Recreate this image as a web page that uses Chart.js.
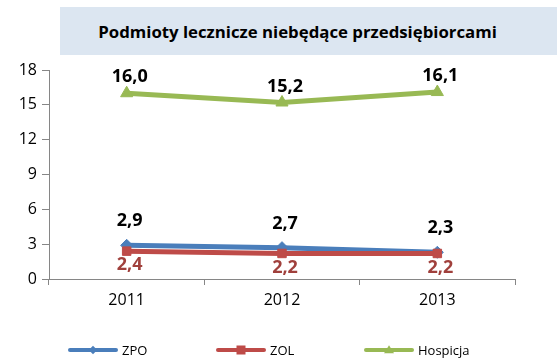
<!DOCTYPE html>
<html lang="pl">
<head>
<meta charset="utf-8">
<script src="https://cdn.jsdelivr.net/npm/chart.js@4/dist/chart.umd.min.js"></script>
<style>
  html, body { margin: 0; padding: 0; background: #fff; }
  body { width: 557px; height: 359px; position: relative; overflow: hidden; font-family: "Open Sans", "Liberation Sans", sans-serif; }
  #chart { position: absolute; left: 0; top: 0; }
  .title-box {
    position: absolute; left: 60px; top: 7px; width: 497px; height: 48px;
    background: #dce6f1; display: flex; align-items: center; justify-content: center;
    font-weight: bold; font-size: 16.8px; color: #000; padding-right: 22px; box-sizing: border-box;
  }
  .legend { position: absolute; left: 68px; top: 341px; display: flex; }
  .legend-item { width: 148px; display: flex; align-items: center; font-size: 13px; color: #000; }
  .legend-line { position: relative; width: 50px; height: 4px; border-radius: 2px; margin-right: 4px; }
  .legend-mark { position: absolute; left: 50%; top: 50%; }
  .mark-rectRot { width: 6px; height: 6px; transform: translate(-50%, -50%) rotate(45deg); }
  .mark-rect { width: 9px; height: 9px; transform: translate(-50%, -50%); }
  .mark-triangle { width: 0; height: 0; background: none !important; transform: translate(-50%, -60%);
    border-left: 5px solid transparent; border-right: 5px solid transparent; border-bottom: 8px solid; }
</style>
</head>
<body>
<canvas id="chart" width="557" height="359"></canvas>
<div class="title-box">Podmioty lecznicze niebędące przedsiębiorcami</div>
<div class="legend" id="legend"></div>
<script>
const years = ['2011', '2012', '2013'];
const zpoValues = [2.9, 2.7, 2.3];
const zolValues = [2.4, 2.2, 2.2];
const hospicjaValues = [16.0, 15.2, 16.1];
const yTicks = [0, 3, 6, 9, 12, 15, 18];

const series = [
  { label: 'ZPO', data: zpoValues, color: '#4a7ebb', labelColor: '#000', point: 'rectRot', radius: 6, labelOffset: -24, order: 1 },
  { label: 'ZOL', data: zolValues, color: '#be4b48', labelColor: '#a0403c', point: 'rect', radius: 6, labelOffset: 14, order: 0 },
  { label: 'Hospicja', data: hospicjaValues, color: '#98b954', labelColor: '#000', point: 'triangle', radius: 7, labelOffset: -16, order: 2 }
];

function formatValue(value) {
  return value.toFixed(1).replace('.', ',');
}

// Draws the value above/below each point, comma as decimal separator.
const valueLabels = {
  id: 'valueLabels',
  afterDatasetsDraw(chart) {
    const ctx = chart.ctx;
    ctx.save();
    ctx.font = 'bold 18px "Open Sans", sans-serif';
    ctx.textAlign = 'center';
    ctx.textBaseline = 'middle';
    chart.data.datasets.forEach((dataset, i) => {
      const meta = chart.getDatasetMeta(i);
      meta.data.forEach((point, j) => {
        ctx.fillStyle = dataset.valueColor;
        ctx.fillText(formatValue(dataset.data[j]), point.x + 3, point.y + dataset.labelOffset);
      });
    });
    ctx.restore();
  }
};

function renderLegend() {
  const legend = document.getElementById('legend');
  series.forEach(s => {
    const item = document.createElement('div');
    item.className = 'legend-item';
    item.innerHTML = `<span class="legend-line" style="background:${s.color}"><span class="legend-mark mark-${s.point}" style="background:${s.color};border-bottom-color:${s.color}"></span></span><span>${s.label}</span>`;
    legend.appendChild(item);
  });
}

new Chart(document.getElementById('chart'), {
  type: 'line',
  data: {
    labels: years,
    datasets: series.map(s => ({
      label: s.label,
      data: s.data,
      borderColor: s.color,
      backgroundColor: s.color,
      borderWidth: 5,
      pointStyle: s.point,
      pointRadius: s.radius,
      pointBorderWidth: 1,
      tension: 0,
      order: s.order,
      valueColor: s.labelColor,
      labelOffset: s.labelOffset
    }))
  },
  options: {
    responsive: false,
    animation: false,
    layout: { padding: { top: 70, right: 42, bottom: 40, left: 0 } },
    plugins: { legend: { display: false }, tooltip: { enabled: false } },
    scales: {
      x: {
        offset: true,
        grid: { offset: true, drawOnChartArea: false, drawTicks: true, tickLength: 6, color: '#868686' },
        border: { color: '#868686', width: 1 },
        ticks: { color: '#000', font: { size: 16, family: '"Open Sans", sans-serif' }, padding: 6 },
        afterFit(scale) { scale.height = 40; }
      },
      y: {
        min: 0,
        max: 18,
        afterBuildTicks(scale) { scale.ticks = yTicks.map(v => ({ value: v })); },
        grid: { drawOnChartArea: false, drawTicks: true, tickLength: 7, color: '#868686' },
        border: { color: '#868686', width: 1 },
        ticks: { color: '#000', font: { size: 16, family: '"Open Sans", sans-serif' }, padding: 5 },
        afterFit(scale) { scale.width = 49; }
      }
    }
  },
  plugins: [valueLabels]
});

renderLegend();
</script>
</body>
</html>
